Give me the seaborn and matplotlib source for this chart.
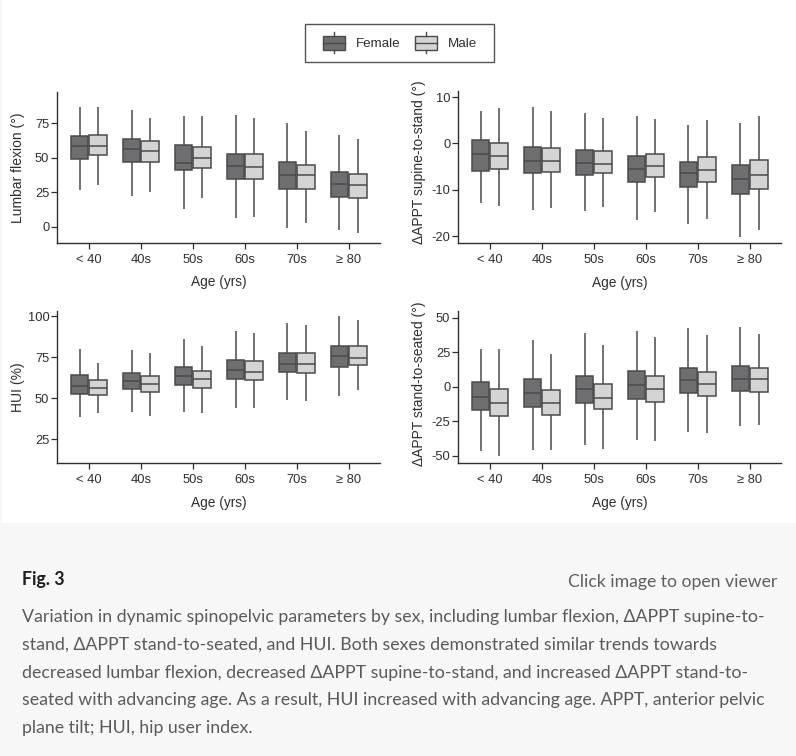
"""
Figura 3: parámetros espinopélvicos dinámicos por sexo y grupo de edad.
Cajas dibujadas con seaborn a partir de resúmenes de cinco números.
"""

import matplotlib
matplotlib.use("Agg")
import matplotlib.pyplot as plt
from matplotlib.legend_handler import HandlerBase
from matplotlib.patches import Rectangle, Patch
from matplotlib.lines import Line2D
import pandas as pd
import seaborn as sns

# =========================
# Datos
# =========================

ages = ["< 40", "40s", "50s", "60s", "70s", "≥ 80"]
sexes = ["Female", "Male"]

# cada caja: [mínimo, Q1, mediana, Q3, máximo]
lumbar_female = [[26.6, 49.2, 58.3, 66.0, 86.6], [22.5, 47.0, 56.4, 63.3, 84.4],
                 [12.9, 40.8, 46.3, 59.5, 80.3], [6.2, 34.8, 43.9, 52.8, 81.0],
                 [-0.5, 27.6, 37.4, 47.0, 75.3], [-2.2, 21.8, 30.7, 39.6, 66.7]]
lumbar_male = [[30.2, 52.0, 58.8, 66.4, 87.0], [25.0, 46.8, 55.2, 62.1, 78.4],
               [20.6, 42.7, 49.6, 57.8, 79.9], [7.4, 34.3, 43.6, 52.5, 78.4],
               [2.6, 27.6, 37.2, 45.1, 69.5], [-4.6, 20.9, 30.0, 38.4, 63.5]]

supine_female = [[-12.8, -5.9, -2.3, 0.8, 6.9], [-14.3, -6.5, -3.7, -0.8, 7.8],
                 [-14.7, -6.9, -4.2, -1.4, 6.5], [-16.6, -8.3, -5.5, -2.7, 5.8],
                 [-17.5, -9.4, -6.5, -4.0, 4.0], [-20.2, -11.0, -7.6, -4.7, 4.5]]
supine_male = [[-13.6, -5.6, -2.8, 0.0, 7.6], [-14.0, -6.2, -3.7, -0.9, 6.9],
               [-13.8, -6.5, -4.5, -1.7, 5.5], [-14.8, -7.3, -4.8, -2.2, 5.2],
               [-16.4, -8.3, -5.7, -2.9, 5.0], [-18.8, -9.8, -6.8, -3.6, 5.8]]

hui_female = [[38.4, 52.6, 57.7, 64.4, 79.8], [41.7, 55.5, 60.8, 65.6, 79.2],
              [41.9, 58.1, 63.6, 69.3, 85.9], [44.1, 61.8, 67.0, 73.5, 91.0],
              [48.8, 66.0, 71.1, 77.8, 95.6], [51.6, 69.3, 75.6, 81.6, 99.9]]
hui_male = [[41.1, 52.2, 56.5, 61.0, 71.7], [39.0, 53.7, 58.7, 63.6, 77.4],
            [41.1, 56.5, 61.6, 66.6, 82.0], [44.3, 61.2, 66.2, 72.7, 89.8],
            [48.2, 65.6, 71.1, 77.8, 94.8], [55.3, 70.3, 74.5, 81.8, 97.9]]

seated_female = [[-46.5, -17.1, -7.5, 3.6, 27.5], [-45.8, -14.7, -4.3, 5.8, 33.5],
                 [-41.9, -11.8, -1.9, 7.7, 38.6], [-38.6, -8.7, 1.4, 11.3, 40.5],
                 [-32.5, -4.6, 4.8, 13.7, 42.7], [-28.4, -3.1, 5.3, 14.9, 42.9]]
seated_male = [[-50.1, -21.4, -11.8, -1.4, 27.5], [-45.8, -20.5, -11.6, -2.4, 23.6],
               [-45.1, -16.4, -8.0, 1.7, 29.9], [-39.3, -11.3, -1.4, 7.5, 35.7],
               [-33.5, -7.0, 2.2, 10.6, 37.6], [-27.5, -3.6, 5.5, 13.5, 38.1]]

caption = ("Variation in dynamic spinopelvic parameters by sex, including lumbar flexion, ΔAPPT supine-to-\n"
           "stand, ΔAPPT stand-to-seated, and HUI. Both sexes demonstrated similar trends towards\n"
           "decreased lumbar flexion, decreased ΔAPPT supine-to-stand, and increased ΔAPPT stand-to-\n"
           "seated with advancing age. As a result, HUI increased with advancing age. APPT, anterior pelvic\n"
           "plane tilt; HUI, hip user index.")

# =========================
# Estilo
# =========================

COLORES = {"Female": "#6e6e70", "Male": "#d4d4d4"}
BORDE = "#4a4a4a"
TEXTO = "#2e2e2e"

plt.rcParams["font.family"] = ["Liberation Sans", "DejaVu Sans"]
plt.rcParams["axes.unicode_minus"] = False

W, H = 796, 756


def tabla_larga(female, male):
    """Pasa los resúmenes de cinco números a un DataFrame largo."""
    filas = []
    for sexo, cajas in zip(sexes, [female, male]):
        for edad, valores in zip(ages, cajas):
            for v in valores:
                filas.append({"age": edad, "sex": sexo, "value": v})
    return pd.DataFrame(filas)


def dibujar_panel(rect_px, female, male, ylabel, yticks, ylim, ylab_y=0.5):
    """Dibuja un panel de cajas agrupadas por sexo. rect_px = (izq, arriba, der, abajo)."""
    x0, y0, x1, y1 = rect_px
    ax = fig.add_axes([x0 / W, 1 - y1 / H, (x1 - x0) / W, (y1 - y0) / H])
    ax.set_facecolor("none")
    sns.boxplot(data=tabla_larga(female, male), x="age", y="value", hue="sex",
                order=ages, hue_order=sexes, palette=COLORES, saturation=1,
                width=0.72, gap=0.05, whis=(0, 100), showfliers=False,
                showcaps=False, linewidth=1.1, linecolor=BORDE, legend=False, ax=ax)
    ax.set_xlim(-0.615, 5.6)
    ax.set_ylim(*ylim)
    ax.set_yticks(yticks)
    sns.despine(ax=ax)
    for lado in ["left", "bottom"]:
        ax.spines[lado].set_color(TEXTO)
        ax.spines[lado].set_linewidth(1.0)
    ax.tick_params(axis="both", direction="out", length=4, width=0.9,
                   color=TEXTO, labelcolor=TEXTO, labelsize=9.3)
    ax.tick_params(axis="y", pad=1.5)
    ax.tick_params(axis="x", pad=4)
    ax.set_xlabel("Age (yrs)", fontsize=9.9, color=TEXTO)
    ax.set_ylabel(ylabel, fontsize=10.0, color=TEXTO)
    ax.xaxis.set_label_coords(0.5, -0.215)
    ax.yaxis.set_label_coords(-0.098, ylab_y)
    return ax


class ManejadorCaja(HandlerBase):
    """Icono de leyenda con forma de caja de boxplot."""
    def create_artists(self, legend, orig_handle, xdescent, ydescent,
                       width, height, fontsize, trans):
        fc = orig_handle.get_facecolor()
        x, y = -xdescent, -ydescent
        caja = Rectangle((x, y), width, height, facecolor=fc, edgecolor=BORDE,
                         lw=1.0, transform=trans)
        mediana = Line2D([x, x + width], [y + height / 2] * 2, color=BORDE,
                         lw=1.0, transform=trans)
        arriba = Line2D([x + width / 2] * 2, [y + height, y + height * 1.25],
                        color=BORDE, lw=1.0, transform=trans)
        abajo = Line2D([x + width / 2] * 2, [y, y - height * 0.25],
                       color=BORDE, lw=1.0, transform=trans)
        return [caja, mediana, arriba, abajo]


# =========================
# Figura
# =========================

fig = plt.figure(figsize=(W / 100, H / 100), dpi=100, facecolor="#f8f7f8")
fig.patches.append(Rectangle((2 / W, 1 - 523 / H), 1, 523 / H, transform=fig.transFigure,
                             facecolor="white", edgecolor="none", zorder=-5))

dibujar_panel((57, 92, 380, 243), lumbar_female, lumbar_male,
              "Lumbar flexion (°)", [0, 25, 50, 75], (-11.6, 97.5))
dibujar_panel((458, 91, 781, 243), supine_female, supine_male,
              "ΔAPPT supine-to-stand (°)", [-20, -10, 0, 10], (-21.5, 11.3), ylab_y=0.53)
dibujar_panel((57, 311, 380, 463), hui_female, hui_male,
              "HUI (%)", [25, 50, 75, 100], (10.6, 103.1))
dibujar_panel((458, 311, 781, 463), seated_female, seated_male,
              "ΔAPPT stand-to-seated (°)", [-50, -25, 0, 25, 50], (-55.2, 54.7), ylab_y=0.52)

# --- Leyenda con marco dibujado aparte ---
manijas = [Patch(facecolor=COLORES[s], edgecolor=BORDE, label=s) for s in sexes]
fig.legend(handles=manijas, loc="center", bbox_to_anchor=(400 / W, 1 - 43 / H),
           ncol=2, frameon=False, fontsize=9.6, handlelength=1.65, handleheight=1.25,
           handletextpad=0.85, columnspacing=1.05,
           handler_map={Patch: ManejadorCaja()}, labelcolor=TEXTO)
fig.patches.append(Rectangle((305 / W, 1 - 62 / H), 189 / W, 38 / H, transform=fig.transFigure,
                             fill=False, edgecolor="#555555", lw=1.0))

# --- Pie de figura ---
fuente = ["Lato", "DejaVu Sans"]
fig.text(22 / W, 1 - 579 / H, "Fig. 3", family=fuente, weight="bold", fontsize=12.8,
         color="#1e1e1e", va="center")
fig.text(777 / W, 1 - 582 / H, "Click image to open viewer", family=fuente, fontsize=12.7,
         color="#5f5f5f", va="center", ha="right")
fig.text(22 / W, 1 - 609 / H, caption, family=fuente, fontsize=12.75, color="#5a5a5a",
         va="top", ha="left", linespacing=1.91)

fig.savefig("out.png", dpi=100, facecolor=fig.get_facecolor())
